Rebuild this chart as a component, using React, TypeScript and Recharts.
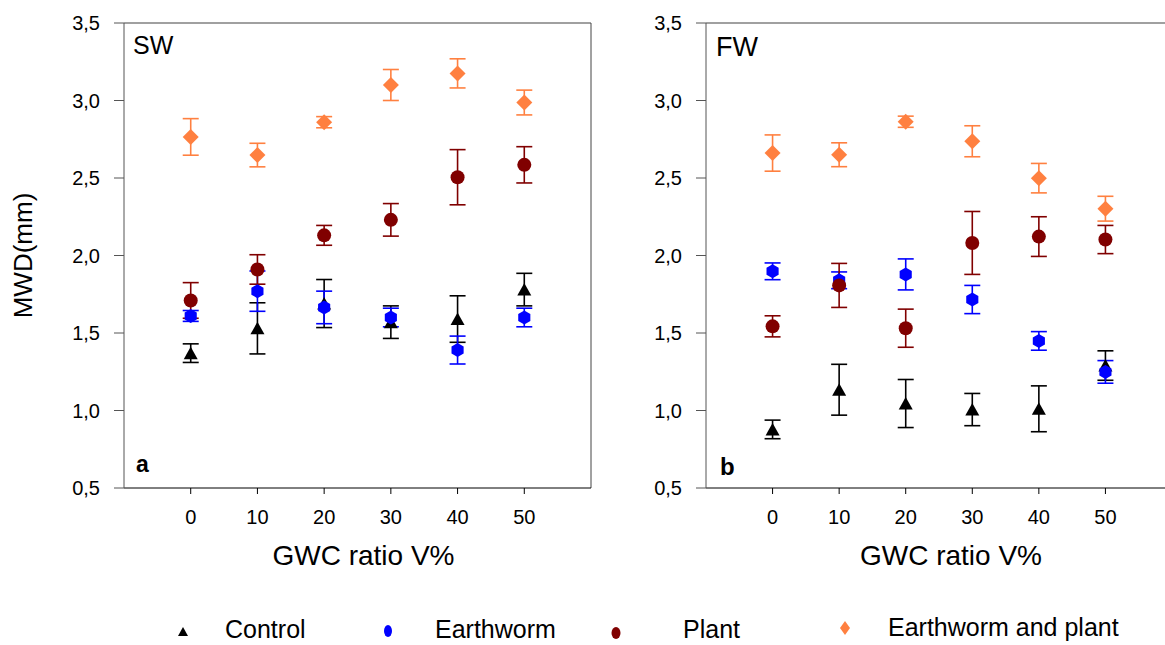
// MWD vs GWC ratio, two panels (SW / FW) with error bars
import React from 'react';
import { ScatterChart, Scatter, XAxis, YAxis, ErrorBar, ReferenceLine } from 'recharts';

const gwc = [0, 10, 20, 30, 40, 50];
const xTicks = [0, 10, 20, 30, 40, 50];
const yTicks = [0.5, 1.0, 1.5, 2.0, 2.5, 3.0, 3.5];

// SW panel
const swControl = [1.37, 1.53, 1.69, 1.57, 1.59, 1.78];
const swControlErr = [0.06, 0.165, 0.155, 0.105, 0.15, 0.105];
const swEarthworm = [1.61, 1.77, 1.665, 1.6, 1.39, 1.6];
const swEarthwormErr = [0.035, 0.13, 0.105, 0.06, 0.09, 0.06];
const swPlant = [1.71, 1.91, 2.13, 2.23, 2.505, 2.585];
const swPlantErr = [0.115, 0.095, 0.064, 0.105, 0.178, 0.117];
const swBoth = [2.765, 2.648, 2.86, 3.1, 3.175, 2.987];
const swBothErr = [0.118, 0.076, 0.036, 0.1, 0.094, 0.08];

// FW panel
const fwControl = [0.878, 1.134, 1.045, 1.006, 1.011, 1.29];
const fwControlErr = [0.06, 0.164, 0.155, 0.104, 0.148, 0.095];
const fwEarthworm = [1.898, 1.84, 1.878, 1.716, 1.449, 1.249];
const fwEarthwormErr = [0.054, 0.054, 0.1, 0.091, 0.06, 0.073];
const fwPlant = [1.543, 1.807, 1.531, 2.081, 2.122, 2.103];
const fwPlantErr = [0.068, 0.142, 0.123, 0.203, 0.128, 0.091];
const fwBoth = [2.661, 2.65, 2.863, 2.737, 2.499, 2.302];
const fwBothErr = [0.117, 0.077, 0.036, 0.1, 0.095, 0.08];

const FONT = '"Liberation Sans", Arial, sans-serif';

const toRows = (vals: number[], errs: number[]) =>
  gwc.map((x, i) => ({ x, y: vals[i], err: errs[i] }));

const Triangle = (p: any) => (
  <path d={`M${p.cx},${p.cy - 6.5}L${p.cx + 7},${p.cy + 6}L${p.cx - 7},${p.cy + 6}Z`} fill={p.fill} />
);
const Hexagon = (p: any) => {
  const r = 7;
  const pts = [0, 1, 2, 3, 4, 5]
    .map((k) => {
      const a = (Math.PI / 3) * k - Math.PI / 2;
      return `${p.cx + r * Math.cos(a)},${p.cy + r * Math.sin(a)}`;
    })
    .join(' ');
  return <polygon points={pts} fill={p.fill} />;
};
const Dot = (p: any) => <circle cx={p.cx} cy={p.cy} r={7} fill={p.fill} />;
const Diamond = (p: any) => (
  <path d={`M${p.cx},${p.cy - 8}L${p.cx + 8},${p.cy}L${p.cx},${p.cy + 8}L${p.cx - 8},${p.cy}Z`} fill={p.fill} />
);

const series = [
  { name: 'Control', color: '#000000', shape: Triangle },
  { name: 'Earthworm', color: '#0000FF', shape: Hexagon },
  { name: 'Plant', color: '#800000', shape: Dot },
  { name: 'Earthworm and plant', color: '#FF8040', shape: Diamond },
];

const fmt = (v: number) => v.toFixed(1).replace('.', ',');

const YTitle = (props: any) => {
  const vb = props.viewBox || { x: 0, y: 23, width: 124, height: 465 };
  const x = vb.x + 23;
  const y = vb.y + vb.height / 2;
  return (
    <text x={x} y={y} transform={`rotate(-90, ${x}, ${y})`} textAnchor="middle" dominantBaseline="central"
      fontSize={26} fontFamily={FONT} fill="#000">MWD(mm)</text>
  );
};

function Panel({ sets, width, yTitle, rightBorder, xLabelDx }: any) {
  return (
    <ScatterChart width={width} height={600} margin={{ top: 23, right: rightBorder ? 9 : 0, bottom: 0, left: 0 }}>
      <XAxis type="number" dataKey="x" domain={[-10, 60]} ticks={xTicks} allowDataOverflow
        height={112} tickSize={6} tickMargin={16} stroke="#000"
        tick={{ fill: '#000', fontSize: 20, fontFamily: FONT }}
        label={{ value: 'GWC ratio V%', position: 'insideBottom', offset: 35, dx: xLabelDx, fontSize: 28, fontFamily: FONT, fill: '#000' }} />
      <YAxis type="number" dataKey="y" domain={[0.5, 3.5]} ticks={yTicks} allowDataOverflow
        width={124} tickSize={10} tickMargin={14} stroke="#555" tickFormatter={fmt}
        tick={{ fill: '#000', fontSize: 20, fontFamily: FONT }}
        label={yTitle ? <YTitle /> : undefined} />
      <ReferenceLine y={3.5} stroke="#808080" strokeWidth={1.5} />
      {rightBorder && <ReferenceLine x={60} stroke="#444" strokeWidth={1} />}
      {series.map((s, i) => (
        <Scatter key={s.name} name={s.name} data={sets[i]} fill={s.color} shape={s.shape} isAnimationActive={false}>
          <ErrorBar dataKey="err" direction="y" width={8} stroke={s.color} strokeWidth={1.6} />
        </Scatter>
      ))}
    </ScatterChart>
  );
}

const swSets = [
  toRows(swControl, swControlErr),
  toRows(swEarthworm, swEarthwormErr),
  toRows(swPlant, swPlantErr),
  toRows(swBoth, swBothErr),
];
const fwSets = [
  toRows(fwControl, fwControlErr),
  toRows(fwEarthworm, fwEarthwormErr),
  toRows(fwPlant, fwPlantErr),
  toRows(fwBoth, fwBothErr),
];

const legendPos = [
  { mx: 183, my: 632, tx: 225, ty: 638 },
  { mx: 388, my: 631, tx: 435, ty: 638 },
  { mx: 616, my: 633, tx: 683, ty: 638 },
  { mx: 845, my: 628, tx: 888, ty: 636 },
];

function LegendMarker({ i, x, y }: any) {
  const c = series[i].color;
  if (i === 0) return <path d={`M${x},${y - 5}L${x + 5},${y + 4}L${x - 5},${y + 4}Z`} fill={c} />;
  if (i === 1) return <ellipse cx={x} cy={y} rx={4} ry={6} fill={c} />;
  if (i === 2) return <ellipse cx={x} cy={y} rx={4.5} ry={6} fill={c} />;
  return <path d={`M${x},${y - 7}L${x + 5},${y}L${x},${y + 7}L${x - 5},${y}Z`} fill={c} />;
}

export default function App() {
  return (
    <div style={{ position: 'absolute', left: 0, top: 0, width: 1165, height: 645, overflow: 'hidden', background: '#fff', fontFamily: FONT }}>
      <div style={{ position: 'absolute', left: 0, top: 0 }}>
        <Panel sets={swSets} width={600} yTitle rightBorder xLabelDx={6} />
      </div>
      <div style={{ position: 'absolute', left: 582, top: 0 }}>
        <Panel sets={fwSets} width={590} yTitle={false} rightBorder={false} xLabelDx={12} />
      </div>
      <svg width={1165} height={645} style={{ position: 'absolute', left: 0, top: 0, pointerEvents: 'none' }}>
        <text x={133} y={54} fontSize={25} fontFamily={FONT} fill="#000">SW</text>
        <text x={716} y={56} fontSize={27} fontFamily={FONT} fill="#000">FW</text>
        <text x={136} y={472} fontSize={23} fontWeight="bold" fontFamily={FONT} fill="#000">a</text>
        <text x={720} y={475} fontSize={24} fontWeight="bold" fontFamily={FONT} fill="#000">b</text>
        {series.map((s, i) => (
          <g key={s.name}>
            <LegendMarker i={i} x={legendPos[i].mx} y={legendPos[i].my} />
            <text x={legendPos[i].tx} y={legendPos[i].ty} fontSize={25} fontFamily={FONT} fill="#000">{s.name}</text>
          </g>
        ))}
      </svg>
    </div>
  );
}
